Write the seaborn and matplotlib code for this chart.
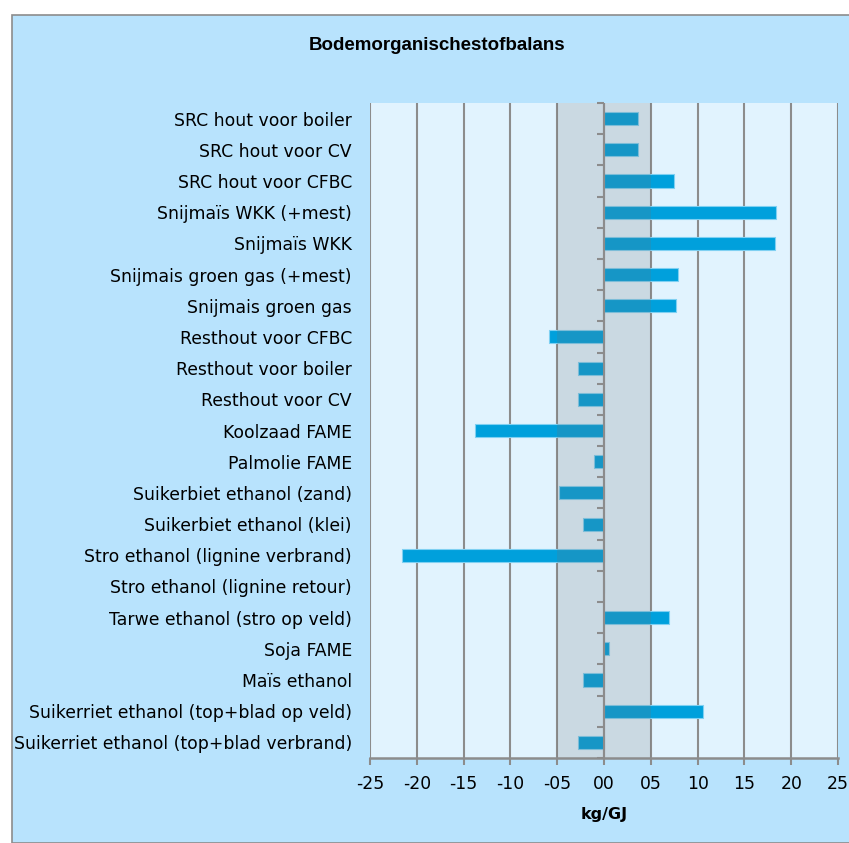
import matplotlib
matplotlib.use("Agg")
import matplotlib.pyplot as plt
import seaborn as sns
import numpy as np
import pandas as pd
from matplotlib.patches import Rectangle

categories = [
    "SRC hout voor boiler",
    "SRC hout voor CV",
    "SRC hout voor CFBC",
    "Snijmaïs WKK (+mest)",
    "Snijmaïs WKK",
    "Snijmais groen gas (+mest)",
    "Snijmais groen gas",
    "Resthout voor CFBC",
    "Resthout voor boiler",
    "Resthout voor CV",
    "Koolzaad FAME",
    "Palmolie FAME",
    "Suikerbiet ethanol (zand)",
    "Suikerbiet ethanol (klei)",
    "Stro ethanol (lignine verbrand)",
    "Stro ethanol (lignine retour)",
    "Tarwe ethanol (stro op veld)",
    "Soja FAME",
    "Maïs ethanol",
    "Suikerriet ethanol (top+blad op veld)",
    "Suikerriet ethanol (top+blad verbrand)",
]
values = [3.6, 3.6, 7.5, 18.4, 18.3, 7.9, 7.7, -5.9, -2.8, -2.8, -13.8, -1.1,
          -4.8, -2.2, -21.6, 0.0, 6.9, 0.5, -2.2, 10.6, -2.8]
xticks = [-25, -20, -15, -10, -5, 0, 5, 10, 15, 20, 25]
xticklabels = ["-25", "-20", "-15", "-10", "-05", "00", "05", "10", "15", "20", "25"]

df = pd.DataFrame({"cat": categories, "val": values})

sns.set_theme(style="white")
plt.rcParams['font.family'] = ['DejaVu Sans']
plt.rcParams['text.color'] = 'black'

W, H = 849, 843
fig = plt.figure(figsize=(W / 100, H / 100), dpi=100, facecolor="white")
fig.patches.append(Rectangle((12 / W, 0), 1, 1 - 15 / H, transform=fig.transFigure,
                             facecolor="#b8e3fd", edgecolor="#8c8c8c", linewidth=1.2,
                             zorder=-10))

ax = fig.add_axes([370 / W, 1 - 758 / H, (838 - 370) / W, (758 - 103) / H])
ax.set_facecolor("#e1f3fe")

sns.barplot(data=df, y="cat", x="val", orient="h", color="#00a0dc", width=0.42,
            saturation=1, ax=ax, zorder=2, edgecolor="#7fd0f2", linewidth=0.8)

ax.set_xlim(-25, 25)
ax.set_ylim(len(categories) - 0.5, -0.5)

for x in xticks:
    ax.axvline(x, color="#8c8c8c", linewidth=1.5, zorder=1)
ax.axvspan(-5, 5, color="#727272", alpha=0.2, zorder=3, linewidth=0)
ax.axvline(0, color="#8c8c8c", linewidth=1.5, zorder=4)

bounds = np.arange(-0.5, len(categories), 1.0)
ax.plot(np.zeros(len(bounds)), bounds, linestyle="none", marker=0, markersize=5,
        markeredgewidth=1.5, color="#8c8c8c", zorder=4, clip_on=False)

for s in ["top", "right", "left"]:
    ax.spines[s].set_visible(False)
ax.spines["bottom"].set_color("#8c8c8c")
ax.spines["bottom"].set_linewidth(1.8)
ax.spines["bottom"].set_zorder(5)

ax.set_xticks(xticks)
ax.set_xticklabels(xticklabels, fontsize=12.4)
ax.tick_params(axis="x", bottom=True, length=5, width=1.5, color="#8c8c8c", pad=7,
               labelcolor="black")
ax.tick_params(axis="y", left=False, length=0, pad=13, labelsize=12.4, labelcolor="black")
ax.set_ylabel("")
ax.set_xlabel("kg/GJ", fontsize=11.5, fontweight="bold", labelpad=10, color="black")

fig.text(437 / W, 1 - 46 / H, "Bodemorganischestofbalans", ha="center", va="center",
         fontsize=13.5, fontweight="bold", color="black", family="Liberation Sans")

fig.savefig("out.png", dpi=100, facecolor="white")
